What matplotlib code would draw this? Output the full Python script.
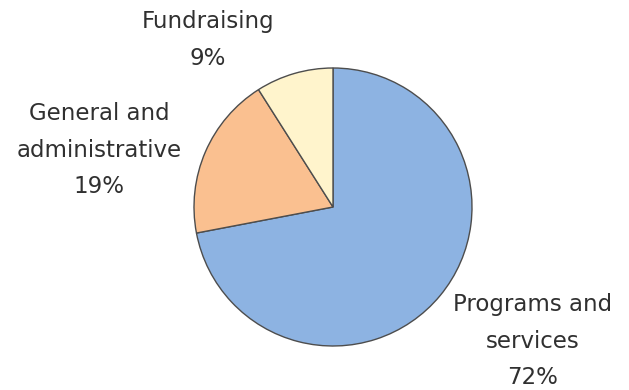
import numpy as np
from matplotlib import pyplot as plt

labels = ['Programs and\nservices', 'General and\nadministrative', 'Fundraising']
shares = [72, 19, 9]
colors = ['#8DB3E2', '#FAC090', '#FFF4CC']

W, H = 629, 390
R = 139.0          # pie radius in pixels
cx, cy = 333, 207  # pie centre (pixels from top left)

fig = plt.figure(figsize=(W / 100, H / 100), dpi=100)
ax = fig.add_axes([0, 0, 1, 1])
ax.pie(shares, colors=colors, startangle=90, counterclock=False,
       wedgeprops=dict(edgecolor='#4d4d4d', linewidth=1.0))

ax.set_xlim(-cx / R, (W - cx) / R)
ax.set_ylim(-(H - cy) / R, cy / R)
ax.set_aspect('equal')
ax.axis('off')

def px(x, y):
    return (x - cx) / R, (cy - y) / R

# label centres in pixels
label_pos = [(533, 341), (99, 150), (208, 40)]
for lab, v, (x, y) in zip(labels, shares, label_pos):
    tx, ty = px(x, y)
    ax.text(tx, ty, '%s\n%d%%' % (lab, v), ha='center', va='center',
            fontsize=16.5, family='DejaVu Sans', color='#303030',
            linespacing=1.75)

fig.savefig('out.png', dpi=100)
